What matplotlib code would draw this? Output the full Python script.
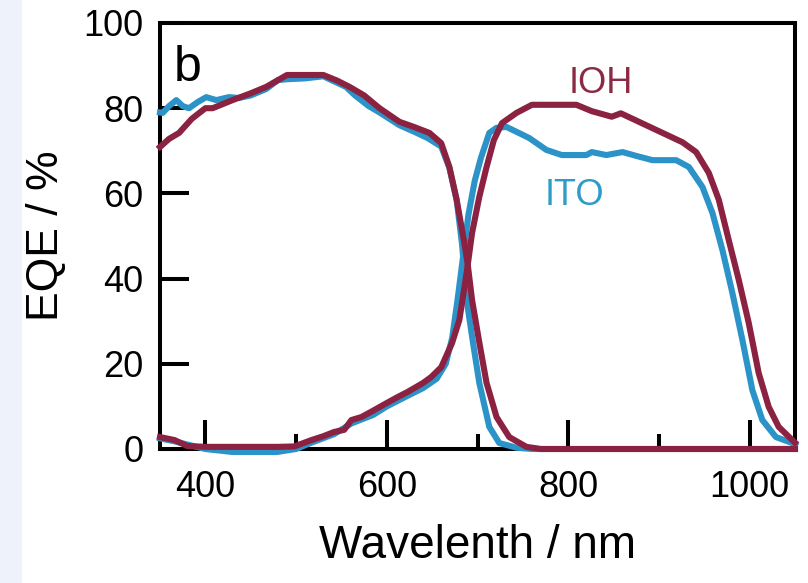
import matplotlib
matplotlib.use("Agg")
import matplotlib.pyplot as plt
from matplotlib.ticker import MultipleLocator
from matplotlib.patches import Rectangle

plt.rcParams['font.family'] = ['Liberation Sans', 'DejaVu Sans']

# ---- data ----
ioh_front_x = [350, 360, 371, 385, 400, 408, 430, 450, 467, 490, 530, 545, 559, 575, 592,
               614, 630, 647, 660, 669, 677, 685, 689, 694, 702, 710, 721, 735, 754, 770, 1050]
ioh_front_y = [70.9, 72.8, 74.2, 77.5, 80.0, 80.0, 81.9, 83.5, 85.0, 87.8, 87.8, 86.5, 85.0, 83.0, 80.0,
               76.8, 75.6, 74.2, 71.8, 66.2, 58.5, 49.0, 43.7, 35.0, 25.0, 15.5, 7.5, 2.8, 0.5, 0.0, 0.0]

ito_front_x = [350, 353, 360, 368, 375, 382, 392, 401, 412, 426, 437, 450, 467, 480, 490, 510,
               530, 545, 555, 565, 580, 592, 614, 630, 645, 660, 669, 677, 683, 688, 695, 702,
               713, 724, 743, 760, 1050]
ito_front_y = [79.0, 78.9, 80.5, 81.9, 80.5, 80.0, 81.5, 82.6, 81.9, 82.6, 82.4, 83.0, 84.5, 86.6, 86.8, 87.0,
               87.5, 86.0, 85.0, 83.0, 80.5, 79.0, 76.0, 74.5, 73.0, 71.0, 66.0, 58.5, 48.0, 35.0, 25.0, 15.5,
               5.2, 1.4, 0.3, 0.0, 0.0]

ioh_back_x = [350, 366, 380, 400, 480, 498, 517, 530, 542, 553, 561, 572, 585, 600, 612, 623, 640,
              649, 660, 672, 680, 688, 694, 702, 710, 718, 727, 743, 760, 790, 809, 826, 848, 858,
              881, 926, 941, 955, 966, 977, 988, 999, 1010, 1021, 1032, 1047, 1050]
ioh_back_y = [2.8, 2.1, 0.7, 0.5, 0.5, 0.6, 2.1, 3.0, 4.0, 4.5, 6.8, 7.5, 9.0, 10.8, 12.2, 13.4, 15.5,
              16.9, 19.2, 24.9, 30.3, 41.3, 50.7, 59.2, 66.2, 72.5, 76.5, 78.9, 80.8, 80.8, 80.8, 79.3, 78.0, 78.8,
              76.5, 72.0, 69.7, 64.8, 58.5, 49.0, 39.7, 29.6, 17.8, 9.9, 5.2, 2.1, 1.5]

ito_back_x = [350, 366, 400, 430, 479, 500, 517, 542, 561, 585, 600, 623, 640, 655, 665, 672, 678,
              684, 690, 697, 704, 713, 721, 732, 757, 776, 793, 820, 826, 842, 860, 875, 893, 919,
              933, 948, 959, 970, 981, 992, 1003, 1014, 1029, 1047, 1050]
ito_back_y = [2.5, 1.8, 0.0, -0.7, -0.7, 0.0, 1.5, 3.5, 6.0, 8.0, 10.0, 12.5, 14.3, 16.5, 20.0, 26.0, 35.0,
              45.0, 55.0, 63.0, 68.5, 74.2, 75.4, 75.6, 73.0, 70.2, 69.0, 69.0, 69.7, 69.0, 69.7, 68.8, 67.8, 67.8,
              66.2, 61.5, 55.4, 46.7, 36.6, 25.6, 13.8, 6.8, 2.8, 1.4, 1.0]

x_ticks = [400, 600, 800, 1000]
y_ticks = [0, 20, 40, 60, 80, 100]

blue = "#2b93c8"
maroon = "#8c2242"

fig = plt.figure(figsize=(8.08, 5.83), dpi=100)
fig.patches.append(Rectangle((0, 0), 22 / 808, 1, transform=fig.transFigure,
                             facecolor="#eef2fb", edgecolor="none", zorder=0))
ax = fig.add_axes([160 / 808, (583 - 449) / 583, (795 - 160) / 808, (449 - 23) / 583])

lw = 4.4
ax.plot(ito_front_x, ito_front_y, color=blue, lw=lw, solid_joinstyle='round', clip_on=False, zorder=3)
ax.plot(ito_back_x, ito_back_y, color=blue, lw=lw, solid_joinstyle='round', clip_on=False, zorder=3)
ax.plot(ioh_front_x, ioh_front_y, color=maroon, lw=lw, solid_joinstyle='round', clip_on=False, zorder=4)
ax.plot(ioh_back_x, ioh_back_y, color=maroon, lw=lw, solid_joinstyle='round', clip_on=False, zorder=4)

ax.set_xlim(350, 1050)
ax.set_ylim(0, 100)
ax.set_xticks(x_ticks)
ax.set_yticks(y_ticks)
ax.xaxis.set_minor_locator(MultipleLocator(100))

for s in ['top', 'right', 'left', 'bottom']:
    ax.spines[s].set_linewidth(2.9)

ax.tick_params(axis='x', which='major', direction='in', length=21, width=2.9,
               labelsize=26, pad=15)
ax.tick_params(axis='x', which='minor', direction='in', length=11, width=2.9)
ax.tick_params(axis='y', which='major', direction='in', length=21, width=2.9,
               labelsize=26, pad=12)

ax.set_xlabel("Wavelenth / nm", fontsize=33, labelpad=14)
ax.set_ylabel("EQE / %", fontsize=32, labelpad=12)

ax.text(0.022, 0.865, "b", transform=ax.transAxes, fontsize=36, ha='left', va='baseline')
ax.text(836, 83.6, "IOH", color="#8a2a45", fontsize=26, ha='center', va='baseline')
ax.text(807, 57.3, "ITO", color="#2e9cc9", fontsize=26, ha='center', va='baseline')

fig.savefig("out.png", dpi=100)
